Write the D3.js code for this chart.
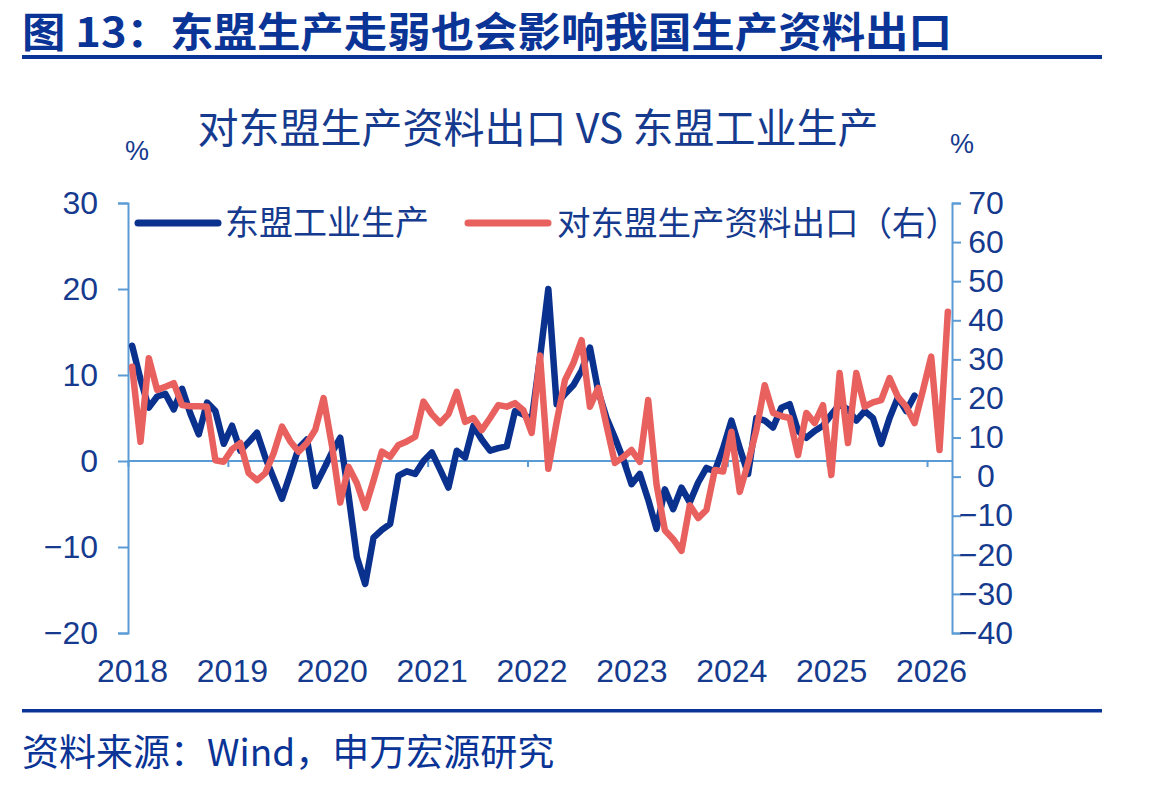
<!DOCTYPE html>
<html>
<head>
<meta charset="utf-8">
<script src="https://cdn.jsdelivr.net/npm/d3@7/dist/d3.min.js"></script>
<style>
  html, body { margin: 0; padding: 0; background: #ffffff; }
  svg { display: block; }
  .cjk { font-family: "Noto Sans CJK SC", "Noto Sans", sans-serif; }
  .num { font-family: "Liberation Sans", Arial, sans-serif; }
</style>
</head>
<body>
<script>
// ---------- data ----------
const yearLabels = ["2018", "2019", "2020", "2021", "2022", "2023", "2024", "2025", "2026"];
const leftTicks = [30, 20, 10, 0, -10, -20];
const rightTicks = [70, 60, 50, 40, 30, 20, 10, 0, -10, -20, -30, -40];

// 东盟工业生产 (%, left axis), monthly from 2018-01
const aseanIP = [
  13.4, 9.5, 6.2, 7.5, 7.8, 6.0, 8.4, 5.5, 3.1, 6.8, 5.8, 2.0,
  4.1, 1.2, 2.2, 3.3, 0.4, -2.0, -4.4, -1.5, 1.5, 2.5, -2.9, -1.0,
  1.0, 2.7, -4.0, -11.2, -14.3, -8.9, -8.0, -7.3, -1.7, -1.2, -1.5, 0.0,
  1.0, -1.0, -3.1, 1.2, 0.4, 4.1, 2.5, 1.2, 1.5, 1.7, 5.8, 5.4,
  4.8, 12.0, 20.0, 6.6, 7.8, 8.8, 10.5, 13.2, 8.1, 5.0, 2.7, 0.2,
  -2.7, -1.5, -4.5, -7.9, -3.3, -5.6, -3.1, -4.8, -2.5, -0.8, -1.2, 1.5,
  4.7, 1.5, -1.5, 5.0, 4.7, 3.9, 6.2, 6.6, 3.5, 2.7, 3.5, 4.1,
  5.4, 6.6, 6.0, 4.7, 5.8, 5.0, 2.0, 5.0, 7.4, 5.8, 7.6
];

// 对东盟生产资料出口 (%, right axis), monthly from 2018-01
const exportsToAsean = [
  28.1, 8.9, 30.3, 22.2, 23.0, 23.9, 18.3, 18.0, 18.0, 17.9, 4.2, 3.8,
  7.0, 8.6, 0.9, -0.9, 0.9, 6.0, 12.8, 9.0, 6.4, 8.6, 12.0, 20.1,
  8.0, -6.6, 2.5, -1.7, -8.0, -1.0, 6.4, 5.1, 8.1, 9.0, 10.2, 19.2,
  16.0, 13.7, 16.0, 21.7, 14.0, 15.0, 11.9, 15.0, 18.3, 17.9, 18.8, 17.0,
  11.2, 31.0, 2.0, 14.0, 24.7, 29.0, 34.9, 17.9, 22.7, 13.0, 3.5, 5.0,
  6.8, 3.8, 19.6, -2.0, -13.7, -16.0, -19.0, -7.3, -10.6, -8.5, 1.7, 1.3,
  11.5, -3.9, 3.5, 12.0, 23.4, 16.3, 15.5, 15.0, 5.5, 16.3, 13.7, 18.3,
  0.4, 26.5, 8.6, 26.5, 17.9, 19.0, 19.6, 25.2, 20.4, 17.9, 13.7, 22.0,
  30.7, 6.8, 42.2
];

const seriesNames = ["东盟工业生产", "对东盟生产资料出口（右）"];
const titleText = "图 13：东盟生产走弱也会影响我国生产资料出口";
const subtitleText = "对东盟生产资料出口 VS 东盟工业生产";
const sourceText = "资料来源：Wind，申万宏源研究";

// ---------- layout ----------
const W = 1149, H = 787;
const plot = { left: 128, right: 952, top: 203, bottom: 633 };
const C = {
  navy: "#0a3495",
  text: "#153a8e",
  axis: "#5b9bd5",
  blue: "#0b318f",
  red: "#e8615e"
};

const svg = d3.select("body").append("svg").attr("width", W).attr("height", H);

// header
svg.append("text").attr("class", "cjk")
  .attr("x", 22).attr("y", 47)
  .attr("font-size", 40.5).attr("font-weight", 700).attr("fill", C.navy)
  .attr("textLength", 930).attr("lengthAdjust", "spacingAndGlyphs")
  .text(titleText);
svg.append("rect").attr("x", 22).attr("y", 55).attr("width", 1080).attr("height", 4).attr("fill", C.navy);

// footer
svg.append("rect").attr("x", 22).attr("y", 709).attr("width", 1080).attr("height", 3.5).attr("fill", C.navy);
svg.append("text").attr("class", "cjk")
  .attr("x", 22).attr("y", 766)
  .attr("font-size", 37).attr("fill", C.navy)
  .text(sourceText);

// subtitle
svg.append("text").attr("class", "cjk")
  .attr("x", 538).attr("y", 143).attr("text-anchor", "middle")
  .attr("font-size", 41).attr("fill", C.text)
  .text(subtitleText);

// % units
svg.append("text").attr("class", "num").attr("x", 137).attr("y", 160).attr("text-anchor", "middle")
  .attr("font-size", 27).attr("fill", C.text).text("%");
svg.append("text").attr("class", "num").attr("x", 962).attr("y", 153).attr("text-anchor", "middle")
  .attr("font-size", 27).attr("fill", C.text).text("%");

// ---------- scales ----------
const nSlots = 99;
const x = d3.scaleLinear().domain([0, nSlots]).range([plot.left, plot.right]);
const yL = d3.scaleLinear().domain([-20, 30]).range([plot.bottom, plot.top]);
const yR = d3.scaleLinear().domain([-40, 70]).range([plot.bottom, plot.top]);

// ---------- axes ----------
const gL = svg.append("g").attr("transform", `translate(${plot.left},0)`)
  .call(d3.axisLeft(yL).tickValues(leftTicks).tickSize(10).tickPadding(20).tickFormat(d3.format("d")));
const gR = svg.append("g").attr("transform", `translate(${plot.right},0)`)
  .call(d3.axisRight(yR).tickValues(rightTicks).tickSize(9).tickPadding(2).tickFormat(d3.format("d")));
const gX = svg.append("g").attr("transform", `translate(0,${yL(0)})`)
  .call(d3.axisBottom(x).tickValues(yearLabels.map((d, i) => i * 12)).tickSize(6)
    .tickPadding(yL(-20) - yL(0) + 20).tickFormat((d, i) => yearLabels[i]));

[gL, gR, gX].forEach(g => {
  g.select(".domain").attr("stroke", C.axis).attr("stroke-width", 2);
  g.selectAll(".tick line").attr("stroke", C.axis).attr("stroke-width", 2);
  g.selectAll(".tick text").attr("fill", C.text).attr("font-size", 32)
    .attr("font-family", "'Liberation Sans', Arial, sans-serif");
});
gX.select(".domain").attr("d", `M${plot.left},0H${plot.right}`);
gX.selectAll(".tick text").attr("dx", 4);
gR.selectAll(".tick text").attr("text-anchor", "middle").attr("x", 34);

// ---------- lines ----------
const lineL = d3.line().x((d, i) => x(i + 0.5)).y(d => yL(d)).curve(d3.curveLinear);
const lineR = d3.line().x((d, i) => x(i + 0.5)).y(d => yR(d)).curve(d3.curveLinear);

svg.append("path").datum(aseanIP).attr("d", lineL)
  .attr("fill", "none").attr("stroke", C.blue).attr("stroke-width", 6.5)
  .attr("stroke-linejoin", "round").attr("stroke-linecap", "round");
svg.append("path").datum(exportsToAsean).attr("d", lineR)
  .attr("fill", "none").attr("stroke", C.red).attr("stroke-width", 6.5)
  .attr("stroke-linejoin", "round").attr("stroke-linecap", "round");

// ---------- legend ----------
const legendItems = [
  { name: seriesNames[0], color: C.blue, x0: 138, x1: 218, tx: 225 },
  { name: seriesNames[1], color: C.red, x0: 468, x1: 548, tx: 557 }
];
const lg = svg.append("g");
legendItems.forEach(it => {
  lg.append("line").attr("x1", it.x0).attr("x2", it.x1).attr("y1", 223).attr("y2", 223)
    .attr("stroke", it.color).attr("stroke-width", 7).attr("stroke-linecap", "round");
  lg.append("text").attr("class", "cjk").attr("x", it.tx).attr("y", 235)
    .attr("font-size", it.tx > 300 ? 33.5 : 34).attr("fill", C.text).text(it.name);
});
</script>
</body>
</html>
